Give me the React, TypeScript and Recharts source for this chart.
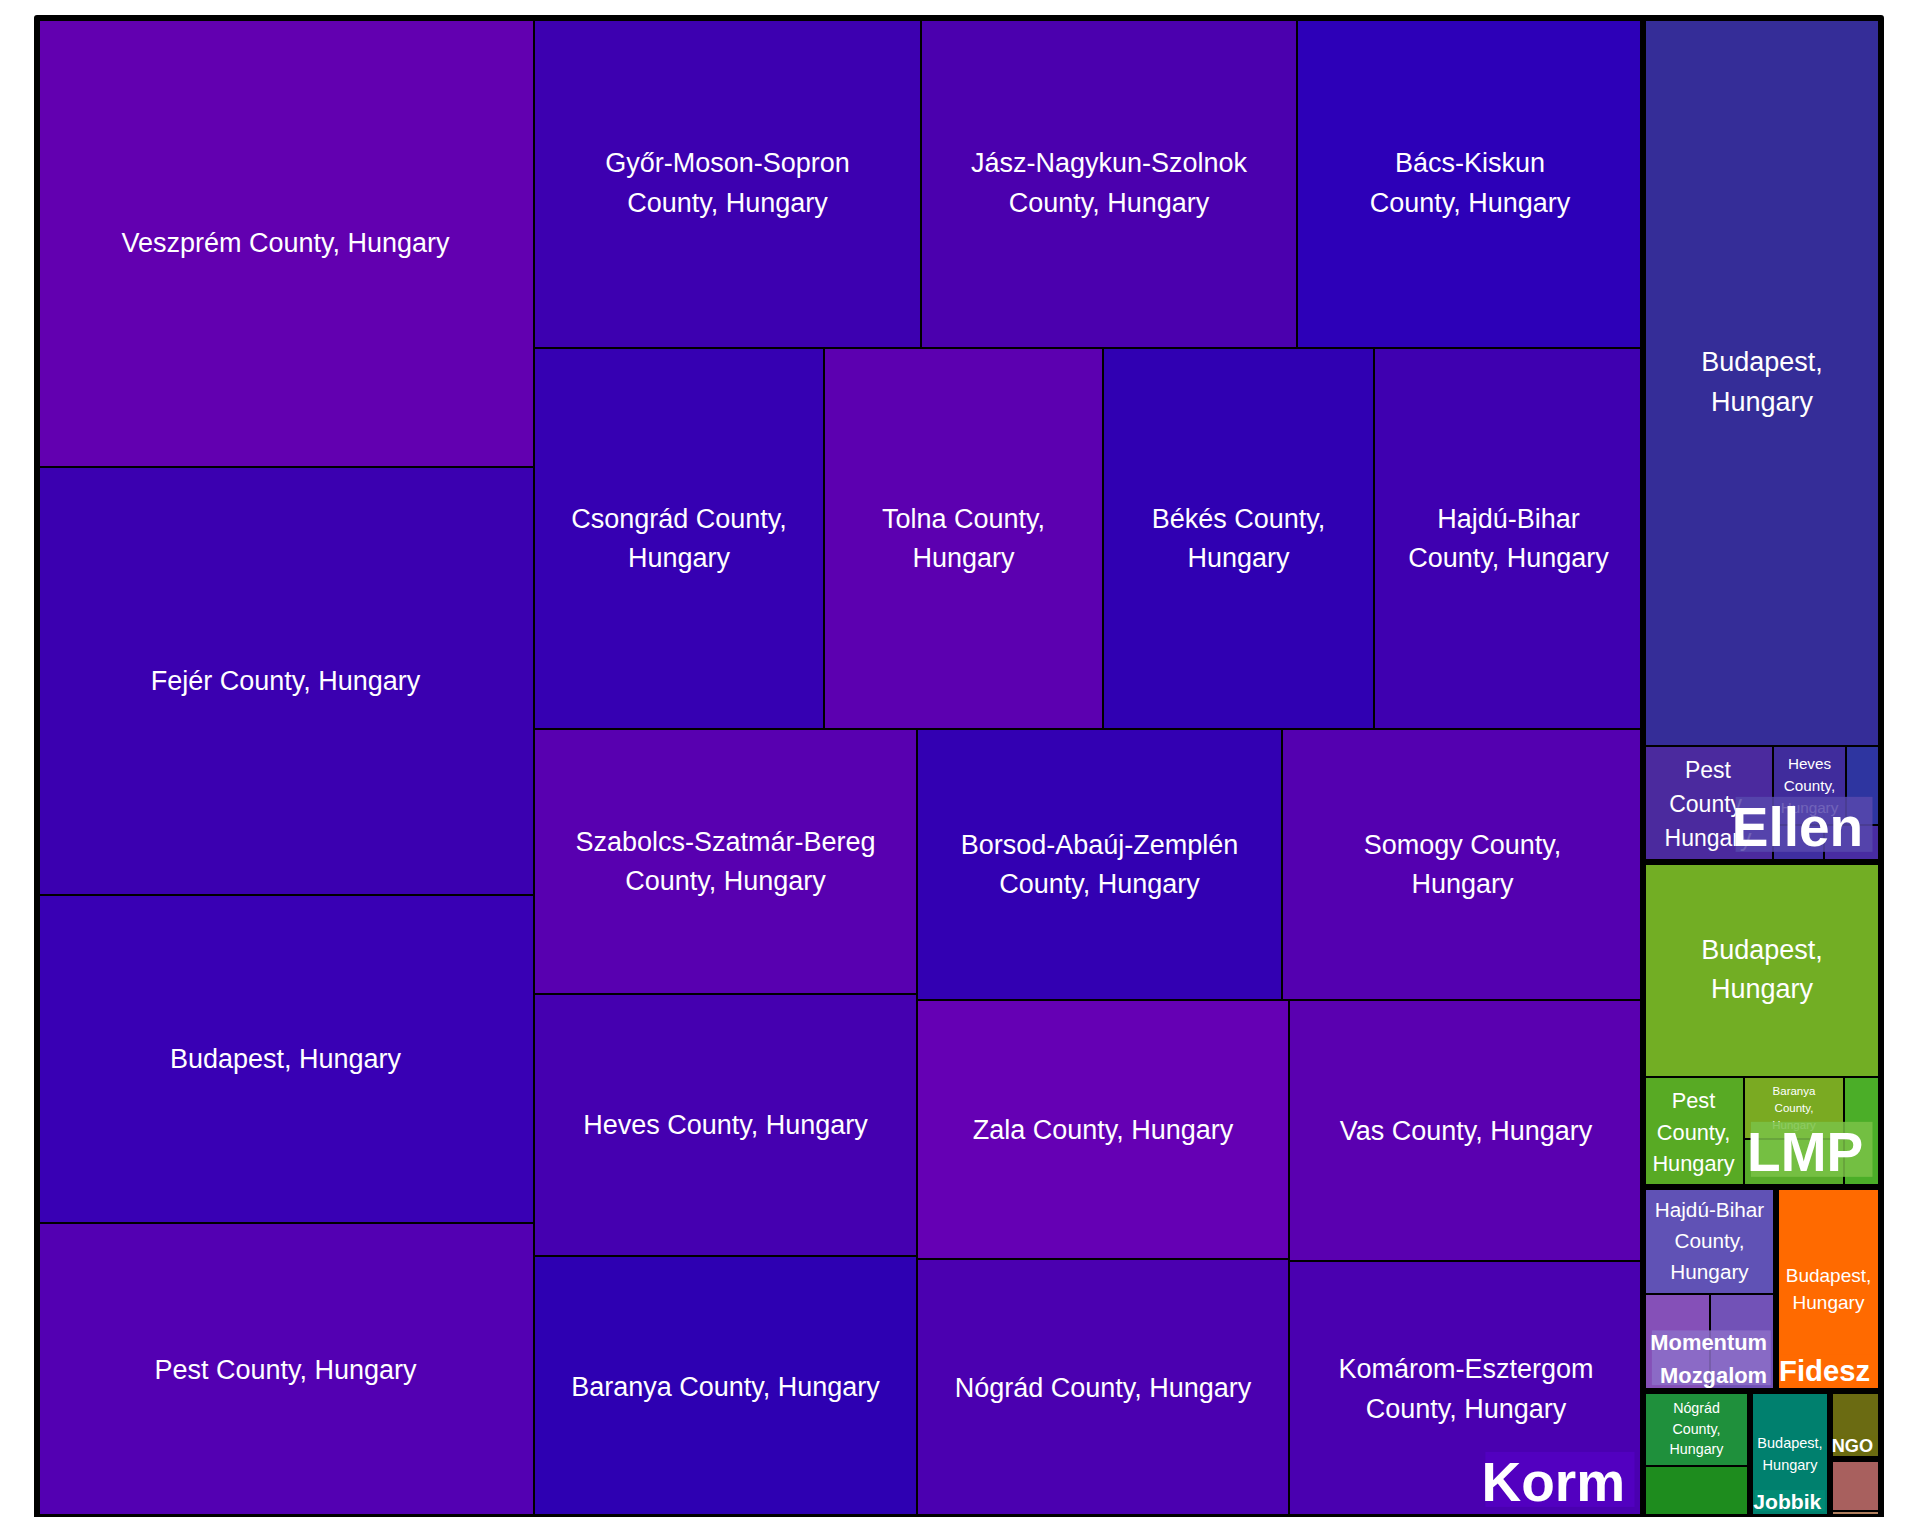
import React from 'react';
import { Treemap } from 'recharts';

// ---------- data ----------
const groupNames = [
  'Korm',
  'Ellen',
  'LMP',
  'Momentum Mozgalom',
  'Fidesz',
  'Párbeszéd Magyarországért',
  'Jobbik',
  'NGO',
  'MSZP',
];

const kormLocations = [
  'Veszprém County, Hungary',
  'Fejér County, Hungary',
  'Budapest, Hungary',
  'Pest County, Hungary',
  'Győr-Moson-Sopron County, Hungary',
  'Jász-Nagykun-Szolnok County, Hungary',
  'Bács-Kiskun County, Hungary',
  'Csongrád County, Hungary',
  'Tolna County, Hungary',
  'Békés County, Hungary',
  'Hajdú-Bihar County, Hungary',
  'Szabolcs-Szatmár-Bereg County, Hungary',
  'Heves County, Hungary',
  'Baranya County, Hungary',
  'Borsod-Abaúj-Zemplén County, Hungary',
  'Somogy County, Hungary',
  'Zala County, Hungary',
  'Nógrád County, Hungary',
  'Vas County, Hungary',
  'Komárom-Esztergom County, Hungary',
];
const kormValues = [22291, 21247, 16300, 14700, 12771, 12408, 11418, 11037, 10619, 10314, 10238, 10130, 10040, 10030, 9877, 9769, 9620, 9600, 9229, 9052];

const ellenLocations = [
  'Budapest, Hungary',
  'Pest County, Hungary',
  'Heves County, Hungary',
  'Csongrád County, Hungary',
  'Borsod-Abaúj-Zemplén County, Hungary',
  'Fejér County, Hungary',
];
const ellenValues = [17338, 1513, 580, 271, 190, 195];

const lmpLocations = [
  'Budapest, Hungary',
  'Pest County, Hungary',
  'Baranya County, Hungary',
  'Heves County, Hungary',
  'Csongrád County, Hungary',
];
const lmpValues = [5117, 1106, 620, 475, 405];

const momentumLocations = ['Hajdú-Bihar County, Hungary', 'Pest County, Hungary', 'Budapest, Hungary'];
const momentumValues = [1417, 650, 640];

const fideszLocations = ['Budapest, Hungary'];
const fideszValues = [2137];

const parbeszedLocations = ['Nógrád County, Hungary', 'Borsod-Abaúj-Zemplén County, Hungary'];
const parbeszedValues = [806, 541];

const jobbikLocations = ['Budapest, Hungary'];
const jobbikValues = [1002];

const ngoLocations = ['Budapest, Hungary'];
const ngoValues = [345];

const mszpLocations = ['Budapest, Hungary', 'Pest County, Hungary'];
const mszpValues = [296, 34];

// ---------- styles ----------
const kormColors = ['#6200B0', '#3B00B0', '#3900B4', '#5300B2', '#3D00B0', '#4B00AE', '#2D00B8', '#3600B2', '#5C00B0', '#3000B2', '#3F00B0', '#5800B0', '#4500B0', '#2E00B2', '#3300B2', '#5400B0', '#6500B4', '#4B00B0', '#5A00B0', '#4A00B0'];
const ellenColors = ['#352D98', '#4B2A9E', '#402C9C', '#2E35A0', '#3F2EA0', '#482CA2'];
const lmpColors = ['#72AE24', '#58AA24', '#7AAA22', '#58AB2A', '#4BAE28'];
const momentumColors = ['#6052B5', '#8550B8', '#7252B7'];
const fideszColors = ['#FF6A00'];
const parbeszedColors = ['#1F903C', '#1E8C1E'];
const jobbikColors = ['#00806E'];
const ngoColors = ['#6B6B12'];
const mszpColors = ['#A8605E', '#B07F5E'];

const groupLabelFills = [
  'rgba(83,0,194,0.9)',
  'rgba(87,72,173,0.85)',
  'rgba(122,194,70,0.85)',
  'rgba(140,110,200,0.85)',
  'rgba(255,106,0,0.9)',
  'rgba(40,160,60,0.85)',
  'rgba(0,140,118,0.85)',
  'rgba(107,107,16,0.9)',
  'rgba(180,100,100,0.85)',
];

const labelBreaks: Record<string, string[]> = {
  'Bács-Kiskun County, Hungary': ['Bács-Kiskun', 'County, Hungary'],
};

const groupLocations = [kormLocations, ellenLocations, lmpLocations, momentumLocations, fideszLocations, parbeszedLocations, jobbikLocations, ngoLocations, mszpLocations];
const groupValues = [kormValues, ellenValues, lmpValues, momentumValues, fideszValues, parbeszedValues, jobbikValues, ngoValues, mszpValues];
const groupColors = [kormColors, ellenColors, lmpColors, momentumColors, fideszColors, parbeszedColors, jobbikColors, ngoColors, mszpColors];

const treeData = groupNames.map((g, gi) => ({
  name: g,
  children: groupLocations[gi].map((loc, li) => ({
    name: loc,
    value: groupValues[gi][li],
    color: groupColors[gi][li],
  })),
}));

// ---------- text helpers ----------
const FONT = '"Liberation Sans", Arial, Helvetica, sans-serif';
let ctx: CanvasRenderingContext2D | null = null;
function textWidth(s: string, fs: number, bold = false): number {
  if (!ctx) ctx = document.createElement('canvas').getContext('2d');
  if (!ctx) return s.length * fs * 0.55;
  ctx.font = `${bold ? 'bold ' : ''}${fs}px ${FONT}`;
  return ctx.measureText(s).width;
}

function wrap(words: string[], fs: number, maxW: number): string[] | null {
  const lines: string[] = [];
  let cur = '';
  for (const w of words) {
    const t = cur ? cur + ' ' + w : w;
    if (textWidth(t, fs) <= maxW) {
      cur = t;
    } else {
      if (!cur) return null;
      lines.push(cur);
      if (textWidth(w, fs) > maxW) return null;
      cur = w;
    }
  }
  if (cur) lines.push(cur);
  return lines;
}

function fitLeaf(name: string, w: number, h: number) {
  if (w < 70 || h < 55) return null;
  const availW = 0.84 * w;
  const availH = h - 6;
  for (let fs = 27; fs >= 8; fs -= 0.25) {
    let lines: string[] | null;
    if (textWidth(name, fs) <= availW) lines = [name];
    else if (labelBreaks[name]) lines = labelBreaks[name].every((l) => textWidth(l, fs) <= availW) ? labelBreaks[name] : null;
    else lines = wrap(name.split(' '), fs, availW);
    if (!lines) continue;
    if (lines.length * fs * 1.55 <= availH) return { fs, lines };
  }
  return null;
}

function fitGroup(name: string, w: number) {
  const words = name.split(' ');
  const options: string[][] = [[name]];
  for (let i = 1; i < words.length; i++) {
    options.push([words.slice(0, i).join(' '), words.slice(i).join(' ')]);
  }
  let best: { fs: number; lines: string[] } | null = null;
  for (const opt of options) {
    const unit = Math.max(...opt.map((l) => textWidth(l, 1, true)));
    const fs = Math.min(55, (0.92 * (w - 6)) / unit);
    if (!best || fs > best.fs) best = { fs, lines: opt };
  }
  if (!best || best.fs < 17) return null;
  return best;
}

function renderGroupOverlay(g: any) {
  const items: React.ReactNode[] = [];
  items.push(
    <rect
      key="border"
      x={g.x}
      y={g.y}
      width={g.width}
      height={g.height}
      fill="none"
      stroke="#000"
      strokeWidth={6}
      strokeLinejoin="round"
    />,
  );
  const fit = fitGroup(g.name, g.width);
  if (fit) {
    const { fs, lines } = fit;
    const innerR = g.x + g.width - 3;
    const innerB = g.y + g.height - 3;
    const right = innerR - 0.27 * fs;
    const lastBase = innerB - 0.23 * fs;
    const lh = 1.5 * fs;
    const firstBase = lastBase - (lines.length - 1) * lh;
    const maxW = Math.max(...lines.map((l) => textWidth(l, fs, true)));
    items.push(
      <rect
        key="lbg"
        x={right - maxW + 0.07 * fs}
        y={firstBase - 0.9 * fs}
        width={maxW + 0.1 * fs}
        height={lastBase - firstBase + fs}
        fill={groupLabelFills[g.index] || 'rgba(255,255,255,0.15)'}
      />,
    );
    lines.forEach((l, i) => {
      items.push(
        <text
          key={'gl' + i}
          x={right}
          y={firstBase + i * lh}
          textAnchor="end"
          fill="#FFFFFF"
          fontFamily={FONT}
          fontWeight="bold"
          fontSize={fs}
        >
          {l}
        </text>,
      );
    });
  }
  return <g>{items}</g>;
}

const renderContent = (props: any) => {
  const { depth, x, y, width, height, name, root, index, color } = props;
  if (depth !== 2) return <g />;
  const fit = fitLeaf(name, width - 2, height - 2);
  const cx = x + width / 2;
  const cy = y + height / 2;
  const isLast = root && root.children && index === root.children.length - 1;
  return (
    <g>
      <rect x={x} y={y} width={width} height={height} fill={color} stroke="#000" strokeWidth={2} />
      {fit &&
        fit.lines.map((l, i) => (
          <text
            key={i}
            x={cx}
            y={cy + (i - (fit.lines.length - 1) / 2) * fit.fs * 1.47}
            textAnchor="middle"
            dominantBaseline="central"
            fill="#FFFFFF"
            fontFamily={FONT}
            fontSize={fit.fs}
          >
            {l}
          </text>
        ))}
      {isLast ? renderGroupOverlay(root) : null}
    </g>
  );
};

export default function App() {
  return (
    <div style={{ padding: '10px 0 0 29px' }}>
      <style>{'.recharts-surface{overflow:visible}'}</style>
      <Treemap
        width={1844}
        height={1499}
        data={treeData}
        dataKey="value"
        nameKey="name"
        aspectRatio={1.108}
        type="flat"
        isAnimationActive={false}
        isUpdateAnimationActive={false}
        content={renderContent}
      />
    </div>
  );
}
